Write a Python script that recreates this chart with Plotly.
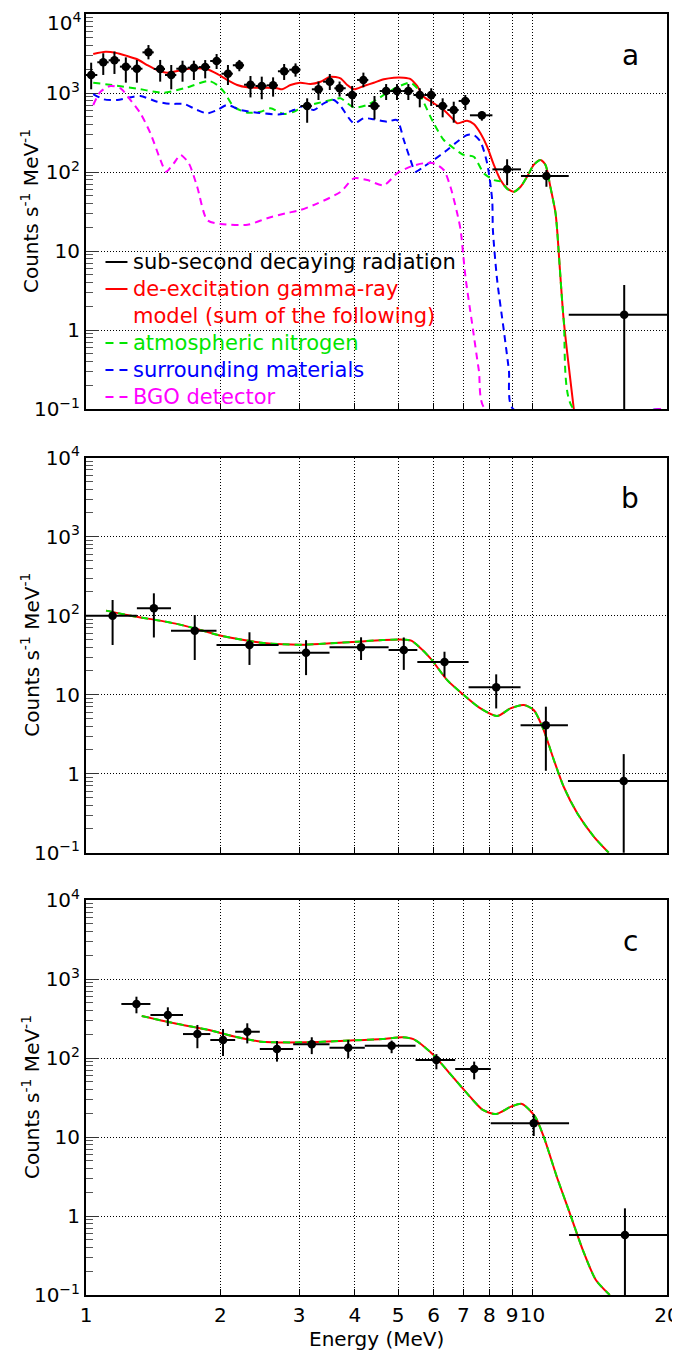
import math
import plotly.graph_objects as go

# ---------------- Panel a : data ----------------
a_x = [1.027, 1.093, 1.158, 1.228, 1.300, 1.380, 1.466, 1.552, 1.645, 1.744,
       1.849, 1.961, 2.079, 2.205, 2.335, 2.475, 2.624, 2.778, 2.946, 3.128,
       3.316, 3.515, 3.697, 3.945, 4.18, 4.426, 4.70, 4.97, 5.27, 5.59,
       5.93, 6.29, 6.66, 7.07, 7.70, 8.77, 10.74, 16.04]
a_xlo = [1.00, 1.06, 1.124, 1.191, 1.262, 1.338, 1.418, 1.503, 1.593, 1.689,
         1.790, 1.897, 2.011, 2.132, 2.259, 2.395, 2.538, 2.690, 2.852, 3.023,
         3.204, 3.396, 3.599, 3.815, 4.044, 4.287, 4.544, 4.816, 5.105, 5.411,
         5.736, 6.080, 6.444, 6.831, 7.24, 8.13, 9.42, 12.05]
a_xhi = [1.06, 1.124, 1.191, 1.262, 1.338, 1.418, 1.503, 1.593, 1.689, 1.790,
         1.897, 2.011, 2.132, 2.259, 2.395, 2.538, 2.690, 2.852, 3.023, 3.204,
         3.396, 3.599, 3.815, 4.044, 4.287, 4.544, 4.816, 5.105, 5.411, 5.736,
         6.080, 6.444, 6.831, 7.24, 8.13, 9.42, 12.05, 20.0]
a_y = [1690, 2450, 2595, 2155, 2030, 3270, 2015, 1690, 2030, 2090,
       2130, 2540, 1755, 2245, 1273, 1227, 1250, 1884, 1972, 684,
       1114, 1390, 1148, 944, 1463, 684, 1059, 1059, 1059, 944,
       944, 684, 609, 793, 522, 108, 88.9, 1.56]
a_yhi = [2420, 3185, 3345, 2827, 2617, 4045, 2620, 2263, 2562, 2563,
         2612, 3114, 2262, 2620, 1641, 1610, 1578, 2330, 2370, 856,
         1395, 1740, 1396, 1228, 1810, 916, 1298, 1298, 1298, 1148,
         1148, 856, 776, 944, 581, 145, 106, 3.71]
a_ylo = [1114, 1692, 1742, 1352, 1350, 2667, 1392, 1114, 1390, 1460,
         1532, 2013, 1263, 1885, 879, 833, 899, 1462, 1608, 420,
         815, 1091, 901, 659, 1183, 464, 815, 815, 815, 659,
         686, 492, 421, 610, 447, 68, 65, 0.01]

# Panel a : models
a_tot_x = [1.038, 1.106, 1.164, 1.237, 1.302, 1.371, 1.443, 1.520, 1.600, 1.685,
           1.774, 1.868, 1.967, 2.071, 2.181, 2.296, 2.417, 2.545, 2.680, 2.750,
           2.870, 3.02, 3.183, 3.35, 3.528, 3.715, 3.846, 3.98, 4.188, 4.41,
           4.644, 4.89, 5.148, 5.33, 5.514, 5.706, 6.008, 6.326, 6.66, 6.78,
           7.137, 7.385, 7.645, 7.912, 8.19, 8.476, 8.77, 9.08, 9.40, 9.72,
           10.06, 10.42, 10.69, 10.96, 11.26, 11.35, 11.74, 12.37]
a_tot_y = [3119, 3334, 3236, 2938, 2673, 2259, 1954, 1807, 1898, 2013,
           2056, 1996, 1741, 1463, 1262, 1180, 1167, 1167, 1146, 1114,
           1262, 1349, 1300, 1390, 1607, 1535, 1262, 1114, 1227, 1349,
           1490, 1563, 1563, 1503, 1227, 897, 741, 609, 455, 413,
           446, 405, 309, 209, 123, 79, 62, 56.4, 65, 87,
           123, 142, 123, 65, 30, 18.5, 1.34, 0.1]

a_n2_x = [1.038, 1.174, 1.324, 1.494, 1.685, 1.884, 1.967, 2.035, 2.143, 2.296,
          2.46, 2.589, 2.773, 2.918, 3.074, 3.294, 3.589, 3.715, 3.98, 4.264,
          4.644, 4.97, 5.33, 5.514, 5.706, 6.008, 6.326, 6.66, 7.015, 7.385,
          7.78, 8.19, 8.476, 8.77, 9.08, 9.40, 9.72, 10.06, 10.42, 10.69,
          10.96, 11.26, 11.35, 11.74, 12.37, 19.4]
a_n2_y = [1349, 1236, 1114, 1009, 1180, 1419, 1262, 1040, 671, 564,
          580, 640, 542, 580, 671, 741, 832, 857, 659, 705,
          944, 1180, 1350, 1150, 760, 413, 254, 200, 164, 156,
          96, 79, 76, 61, 56, 65, 87, 123, 142, 123,
          65, 30, 18.5, 1.34, 0.1, 0.1]

a_sur_x = [1.038, 1.096, 1.174, 1.258, 1.324, 1.443, 1.546, 1.657, 1.774, 1.868,
           1.967, 2.071, 2.218, 2.417, 2.726, 2.918, 3.074, 3.236, 3.408, 3.589,
           3.715, 3.98, 4.188, 4.41, 4.725, 4.97, 5.148, 5.33, 5.466, 5.706,
           6.008, 6.44, 6.78, 7.137, 7.385, 7.645, 7.912, 8.12, 8.15, 8.33,
           8.62, 8.85, 9.05, 19.4]
a_sur_y = [970, 832, 815, 883, 916, 777, 727, 727, 609, 553,
           609, 705, 609, 564, 537, 609, 684, 609, 741, 815,
           684, 413, 479, 465, 434, 455, 254, 142, 101, 117,
           142, 190, 242, 294, 294, 242, 129, 44, 18.5, 4.3,
           1.0, 0.31, 0.1, 0.1]

a_bgo_x = [1.038, 1.078, 1.135, 1.195, 1.258, 1.324, 1.394, 1.468, 1.512, 1.573,
           1.628, 1.699, 1.774, 1.868, 2.0, 2.3, 2.545, 2.8, 3.02, 3.3,
           3.715, 3.98, 4.264, 4.644, 4.97, 5.33, 5.706, 6.008, 6.326, 6.547,
           6.78, 6.90, 7.075, 7.32, 7.58, 7.84, 19.4]
a_bgo_y = [705, 1040, 1227, 1146, 815, 553, 309, 142, 101, 129,
           164, 129, 65, 24.7, 22, 21.5, 26, 30, 33, 40,
           56, 83, 79, 68, 96, 117, 129, 129, 106, 65,
           30, 18.5, 4.7, 1.22, 0.31, 0.1, 0.1]

# ---------------- Panel b ----------------
b_x = [1.147, 1.419, 1.752, 2.323, 3.11, 4.13, 5.148, 6.35, 8.29, 10.71, 16.0]
b_xlo = [1.0, 1.30, 1.55, 1.96, 2.70, 3.51, 4.76, 5.52, 7.19, 9.40, 12.0]
b_xhi = [1.30, 1.55, 1.96, 2.70, 3.51, 4.76, 5.52, 7.19, 9.40, 12.0, 20.0]
b_y = [100, 124, 64.6, 42.6, 34, 39.8, 36.8, 25.9, 12.4, 4.1, 0.81]
b_yhi = [158, 192, 102, 61.7, 49, 53.3, 53, 35, 18.1, 7.05, 1.77]
b_ylo = [42.6, 53, 27.5, 23.8, 17.7, 27.5, 20.6, 16.9, 6.7, 1.09, 0.01]

b_mod_x = [1.109, 1.26, 1.577, 1.804, 1.973, 2.257, 2.47, 2.76, 3.09, 3.53,
           4.04, 4.62, 5.06, 5.35, 5.514, 5.907, 6.44, 7.015, 7.645, 8.33,
           8.92, 9.56, 10.06, 10.59, 11.16, 11.74, 12.59, 13.71, 14.81]
b_mod_y = [116, 100, 80, 66, 57, 49.2, 45.5, 43.4, 43, 44.7,
           46.9, 49.2, 50, 48.3, 42.6, 28.9, 15.3, 9.9, 6.7, 5.37,
           6.7, 7.41, 6.4, 3.57, 1.49, 0.684, 0.316, 0.16, 0.1]

# ---------------- Panel c ----------------
c_x = [1.297, 1.525, 1.776, 2.027, 2.297, 2.677, 3.203, 3.865, 4.835, 6.09, 7.40, 10.06, 16.1]
c_xlo = [1.2, 1.394, 1.649, 1.898, 2.158, 2.45, 2.91, 3.51, 4.21, 5.47, 6.71, 8.06, 12.07]
c_xhi = [1.394, 1.649, 1.898, 2.158, 2.45, 2.91, 3.51, 4.21, 5.47, 6.71, 8.06, 12.07, 20.0]
c_y = [483, 350, 201, 169, 215, 130, 149, 135, 143, 94.4, 72.6, 14.9, 0.574]
c_yhi = [597, 438, 262, 233, 275, 164, 183, 169, 166, 112, 90, 19.5, 1.25]
c_ylo = [368, 254, 133, 106, 153, 90, 112, 99, 115, 72, 53.7, 10.3, 0.01]

c_mod_x = [1.333, 1.577, 1.886, 2.158, 2.47, 3.09, 3.865, 4.62, 5.11, 5.41,
           5.72, 6.05, 6.62, 7.24, 7.74, 8.28, 8.95, 9.47, 10.13, 10.59,
           11.33, 12.12, 12.96, 13.86, 14.89]
c_mod_y = [340, 275, 226, 186, 161, 158, 166, 174, 183, 173,
           139, 104, 58, 32.4, 22, 19.5, 24.2, 26.2, 18.1, 10.1,
           3.14, 1.08, 0.371, 0.155, 0.1]

# ---------------- Text ----------------
x_tickvals = [1, 2, 3, 4, 5, 6, 7, 8, 9, 10, 20]
x_ticktext = ["1", "2", "3", "4", "5", "6", "7", "8", "9", "10", "20"]
y_tickvals = [0.1, 1, 10, 100, 1000, 10000]
y_ticktext = ["10<sup>\u22121</sup>", "1", "10", "10<sup>2</sup>", "10<sup>3</sup>", "10<sup>4</sup>"]
y_title = "Counts s<sup>-1</sup> MeV<sup>-1</sup>"
x_title = "Energy (MeV)"
panel_labels = ["a", "b", "c"]
legend_entries = [
    ("sub-second decaying radiation", "black", "solid"),
    ("de-excitation gamma-ray", "#ff0000", "solid"),
    ("model (sum of the following)", "#ff0000", None),
    ("atmospheric nitrogen", "#00e600", "dash"),
    ("surrounding materials", "#0000ff", "dash"),
    ("BGO detector", "#ff00ff", "dash"),
]

# ---------------- Layout geometry ----------------
# The page places the figure 8 px in from the top-left corner (body margin),
# so the margins are shifted to keep the plot frames at the intended place.
OFF = 8
W, H = 680, 1352
L_PAGE, R_PAGE, T_PAGE, B_PAGE = 85.5, 667.0, 14.0, 1295.0
PW = R_PAGE - L_PAGE
PH = B_PAGE - T_PAGE
MARGIN = dict(l=L_PAGE - OFF, r=W - (R_PAGE - OFF), t=T_PAGE - OFF, b=H - (B_PAGE - OFF))


def ypap(py):
    return (B_PAGE - py) / PH


def xpap(px):
    return (px - L_PAGE) / PW


panel_px = [(14, 409), (457.7, 852.7), (900, 1295)]
FONT = "DejaVu Sans"
RED, GREEN, BLUE, MAG = "#ff0000", "#00e600", "#0000ff", "#ff00ff"
DASH = "7px,5px"

fig = go.Figure()


def err(vals, lo, hi):
    return ([h - v for v, h in zip(vals, hi)], [v - l for v, l in zip(vals, lo)])


def add_line(x, y, color, dash, k):
    fig.add_trace(go.Scatter(x=x, y=y, mode="lines", xaxis="x" + k, yaxis="y" + k,
                             line=dict(color=color, width=2, dash=dash,
                                       shape="spline", smoothing=0.7),
                             showlegend=False, hoverinfo="skip"))


def add_data(x, xlo, xhi, y, ylo, yhi, k):
    ex_p, ex_m = err(x, xlo, xhi)
    ey_p, ey_m = err(y, ylo, yhi)
    fig.add_trace(go.Scatter(
        x=x, y=y, mode="markers", xaxis="x" + k, yaxis="y" + k,
        marker=dict(color="black", size=8.5),
        error_x=dict(type="data", symmetric=False, array=ex_p, arrayminus=ex_m,
                     color="black", thickness=2, width=0),
        error_y=dict(type="data", symmetric=False, array=ey_p, arrayminus=ey_m,
                     color="black", thickness=2, width=0),
        showlegend=False))


# panel a
add_line(a_tot_x, a_tot_y, RED, "solid", "")
add_line(a_n2_x, a_n2_y, GREEN, DASH, "")
add_line(a_sur_x, a_sur_y, BLUE, DASH, "")
add_line(a_bgo_x, a_bgo_y, MAG, DASH, "")
add_data(a_x, a_xlo, a_xhi, a_y, a_ylo, a_yhi, "")
# panel b
add_line(b_mod_x, b_mod_y, RED, "solid", "2")
add_line(b_mod_x, b_mod_y, GREEN, DASH, "2")
add_data(b_x, b_xlo, b_xhi, b_y, b_ylo, b_yhi, "2")
# panel c
add_line(c_mod_x, c_mod_y, RED, "solid", "3")
add_line(c_mod_x, c_mod_y, GREEN, DASH, "3")
add_data(c_x, c_xlo, c_xhi, c_y, c_ylo, c_yhi, "3")

minor_vals = [m * 10 ** e for e in range(-1, 4) for m in range(2, 10)]
GRID = dict(showgrid=True, gridcolor="black", gridwidth=1, griddash="1px,2px")
FRAME = dict(showline=True, mirror=True, linecolor="black", linewidth=2, zeroline=False,
             layer="below traces")

layout = dict(width=W, height=H, margin=MARGIN,
              paper_bgcolor="white", plot_bgcolor="white", showlegend=False,
              font=dict(family=FONT, size=20, color="black"))

for i, (top, bot) in enumerate(panel_px):
    k = "" if i == 0 else str(i + 1)
    last = (i == 2)
    # the top label of panel a sits lower in the original; drawn separately below
    ytext = list(y_ticktext)
    if i == 0:
        ytext[-1] = ""
    layout["xaxis" + k] = dict(
        type="log", range=[0, math.log10(20)], domain=[0, 1], anchor="y" + k,
        tickmode="array", tickvals=x_tickvals, ticktext=x_ticktext,
        showticklabels=last, tickangle=0, ticks="inside", ticklen=6,
        tickcolor="black", tickfont=dict(family=FONT, size=20),
        ticklabelstandoff=1, automargin=False, **GRID, **FRAME)
    layout["yaxis" + k] = dict(
        type="log", range=[-1, 4], domain=[ypap(bot), ypap(top)], anchor="x" + k,
        tickmode="array", tickvals=y_tickvals, ticktext=ytext,
        ticks="inside", ticklen=13, tickcolor="#333", tickwidth=1,
        tickfont=dict(family=FONT, size=20), automargin=False,
        minor=dict(tickmode="array", tickvals=minor_vals, ticks="inside",
                   ticklen=7, tickcolor="#555", tickwidth=1, showgrid=False),
        **GRID, **FRAME)

fig.update_layout(**layout)

ann = []
shapes = []
ann.append(dict(text=y_ticktext[-1], x=xpap(82), y=ypap(22), xref="paper", yref="paper",
                showarrow=False, xanchor="right", yanchor="middle",
                font=dict(family=FONT, size=20, color="black")))
for i, (top, bot) in enumerate(panel_px):
    ann.append(dict(text=y_title, x=xpap(30), y=ypap((top + bot) / 2), xref="paper", yref="paper",
                    textangle=-90, showarrow=False, xanchor="center", yanchor="middle",
                    font=dict(family=FONT, size=20, color="black")))
    ann.append(dict(text=panel_labels[i], x=xpap(630), y=ypap(top + 41), xref="paper", yref="paper",
                    showarrow=False, xanchor="center", yanchor="middle",
                    font=dict(family=FONT, size=28, color="black")))
ann.append(dict(text=x_title, x=xpap(376), y=ypap(1339), xref="paper", yref="paper",
                showarrow=False, xanchor="center", yanchor="middle",
                font=dict(family=FONT, size=20, color="black")))

leg_py = [262, 289, 316, 343, 370, 397]
for (txt, col, sym), py in zip(legend_entries, leg_py):
    ann.append(dict(text=txt, x=xpap(131), y=ypap(py), xref="paper", yref="paper",
                    showarrow=False, xanchor="left", yanchor="middle",
                    font=dict(family=FONT, size=21, color=col)))
    if sym is not None:
        shapes.append(dict(type="line", xref="paper", yref="paper",
                           x0=xpap(105), x1=xpap(127), y0=ypap(py), y1=ypap(py),
                           line=dict(color=col, width=2,
                                     dash="solid" if sym == "solid" else "8px,6px")))

fig.update_layout(annotations=ann, shapes=shapes)
fig.write_html("out.html")
